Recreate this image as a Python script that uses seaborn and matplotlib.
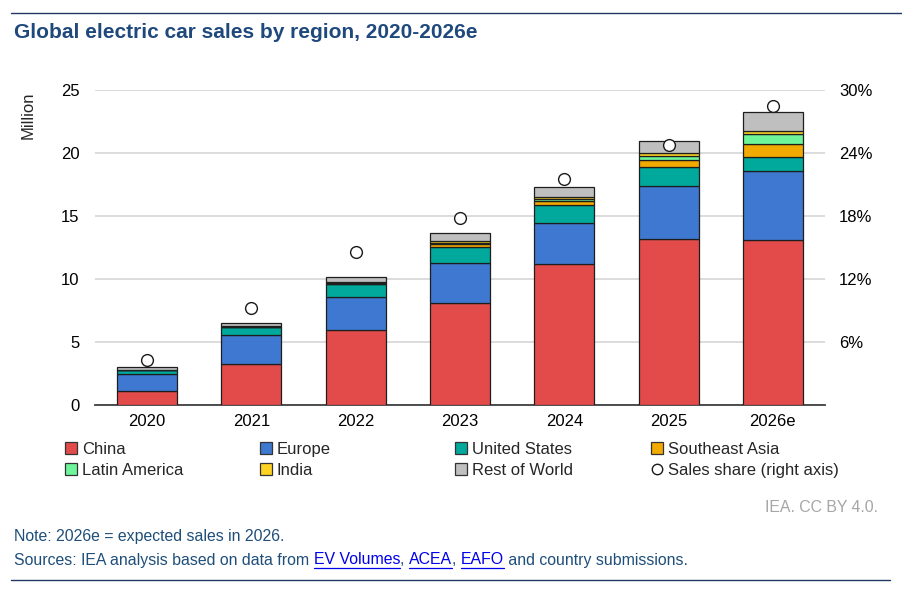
import numpy as np
import matplotlib
matplotlib.use('Agg')
import matplotlib.pyplot as plt
import seaborn as sns
from matplotlib.patches import Patch
from matplotlib.lines import Line2D

years = ['2020', '2021', '2022', '2023', '2024', '2025', '2026e']
china = [1.15, 3.23, 5.95, 8.10, 11.19, 13.15, 13.12]
europe = [1.35, 2.30, 2.64, 3.15, 3.23, 4.20, 5.45]
united_states = [0.27, 0.66, 0.98, 1.32, 1.45, 1.53, 1.13]
southeast_asia = [0.02, 0.02, 0.06, 0.20, 0.32, 0.59, 1.00]
latin_america = [0.01, 0.02, 0.05, 0.12, 0.13, 0.32, 0.77]
india = [0.01, 0.02, 0.05, 0.16, 0.16, 0.20, 0.29]
rest_of_world = [0.18, 0.28, 0.44, 0.59, 0.80, 0.93, 1.51]
sales_share = [4.3, 9.2, 14.6, 17.8, 21.5, 24.8, 28.5]
left_ticks = [0, 5, 10, 15, 20, 25]
right_ticks = [6, 12, 18, 24, 30]

sns.set_style('white')
plt.rcParams['font.family'] = ['Liberation Sans', 'DejaVu Sans']

W, H = 903, 591
fig = plt.figure(figsize=(W / 100, H / 100), dpi=100)


def fx(px):
    return px / W


def fy(py):
    return 1 - py / H


ax = fig.add_axes([fx(95), fy(405), fx(825) - fx(95), fy(90) - fy(405)])

series = [
    ('China', china, '#E34B4B'),
    ('Europe', europe, '#3F78D1'),
    ('United States', united_states, '#00A99C'),
    ('Southeast Asia', southeast_asia, '#F2A900'),
    ('Latin America', latin_america, '#6EF59A'),
    ('India', india, '#FFD324'),
    ('Rest of World', rest_of_world, '#BFBFBF'),
]
EDGE = '#1e1e1e'
bottom = np.zeros(len(years))
for name, vals, col in series:
    sns.barplot(x=years, y=vals, bottom=bottom.copy(), color=col, saturation=1,
                width=0.575, edgecolor=EDGE, linewidth=0.9, ax=ax, zorder=3)
    bottom = bottom + np.array(vals)

FS = 12
ax.set_xlim(-0.5, len(years) - 0.5)
ax.set_ylim(0, 25)
ax.set_yticks(left_ticks)
ax.set_xlabel('')
ax.set_ylabel('')
ax.tick_params(axis='y', length=0, pad=11, labelsize=FS, colors='#000000')
ax.tick_params(axis='x', length=0, pad=6.5, labelsize=FS, colors='#000000')
ax.grid(axis='y', color='#D9D9D9', lw=1.3)
ax.grid(axis='x', visible=False)
ax.set_axisbelow(True)
for s in ['top', 'left', 'right']:
    ax.spines[s].set_visible(False)
ax.spines['bottom'].set_color('#404040')
ax.spines['bottom'].set_linewidth(1.3)

ax2 = ax.twinx()
sns.scatterplot(x=np.arange(len(years)), y=sales_share, ax=ax2, s=72, color='white',
                edgecolor='#1a1a1a', linewidth=1.0, zorder=5)
ax2.set_ylim(0, 30)
ax2.set_yticks(right_ticks)
ax2.set_yticklabels([f'{v}%' for v in right_ticks])
ax2.tick_params(axis='y', length=0, pad=10, labelsize=FS, colors='#000000')
ax2.set_ylabel('')
for s in ['top', 'left', 'right', 'bottom']:
    ax2.spines[s].set_visible(False)

fig.text(fx(28), fy(92), 'Million', rotation=90, ha='center', va='top', fontsize=FS)

# Legend (four columns, row-wise order)
def patch(c):
    return Patch(facecolor=c, edgecolor='#333333', linewidth=0.9)

colors = {n: c for n, _, c in series}
share_handle = Line2D([], [], marker='o', linestyle='none', markersize=7.5,
                      markerfacecolor='white', markeredgecolor='#1a1a1a', markeredgewidth=1.0)
columns = [
    [('China', patch(colors['China'])), ('Latin America', patch(colors['Latin America']))],
    [('Europe', patch(colors['Europe'])), ('India', patch(colors['India']))],
    [('United States', patch(colors['United States'])), ('Rest of World', patch(colors['Rest of World']))],
    [('Southeast Asia', patch(colors['Southeast Asia'])), ('Sales share (right axis)', share_handle)],
]
col_x = [65, 260, 455, 651]
for cx, col in zip(col_x, columns):
    fig.legend([h for _, h in col], [l for l, _ in col], loc='upper left',
               bbox_to_anchor=(fx(cx), fy(442)), frameon=False, fontsize=FS,
               handlelength=0.72, handleheight=0.72, handletextpad=0.28,
               labelspacing=0.36, borderpad=0, borderaxespad=0)

# Title and rules
TITLE_C = '#1F497D'
fig.text(fx(14), fy(33), 'Global electric car sales by region, 2020-2026e', ha='left', va='center',
         fontsize=15, fontweight='bold', color=TITLE_C)
fig.add_artist(Line2D([fx(11), fx(903)], [fy(13), fy(13)], color='#1F3864', lw=1.0))
fig.add_artist(Line2D([fx(11), fx(890)], [fy(580), fy(580)], color='#1F3864', lw=1.0))

FFS = 11.4
fig.text(fx(878), fy(507), 'IEA. CC BY 4.0.', ha='right', va='center', fontsize=FFS, color='#A6A6A6')
NOTE_C = '#1F4E79'
fig.text(fx(14), fy(537), 'Note: 2026e = expected sales in 2026.', ha='left', va='center',
         fontsize=FFS, color=NOTE_C)

pieces = [('Sources: IEA analysis based on data from ', False), ('EV Volumes', True), (', ', False),
          ('ACEA', True), (', ', False), ('EAFO', True), (' and country submissions.', False)]
fig.canvas.draw()
renderer = fig.canvas.get_renderer()
xpos = fx(14)
for txt, link in pieces:
    t = fig.text(xpos, fy(560), txt, ha='left', va='center', fontsize=FFS,
                 color='#0000EE' if link else NOTE_C)
    bb = t.get_window_extent(renderer=renderer)
    x0, x1 = bb.x0 / fig.bbox.width, bb.x1 / fig.bbox.width
    if link:
        uy = fy(568)
        fig.add_artist(Line2D([x0, x1], [uy, uy], color='#0000EE', lw=0.9))
    xpos = x1

fig.savefig('out.png', dpi=100)
